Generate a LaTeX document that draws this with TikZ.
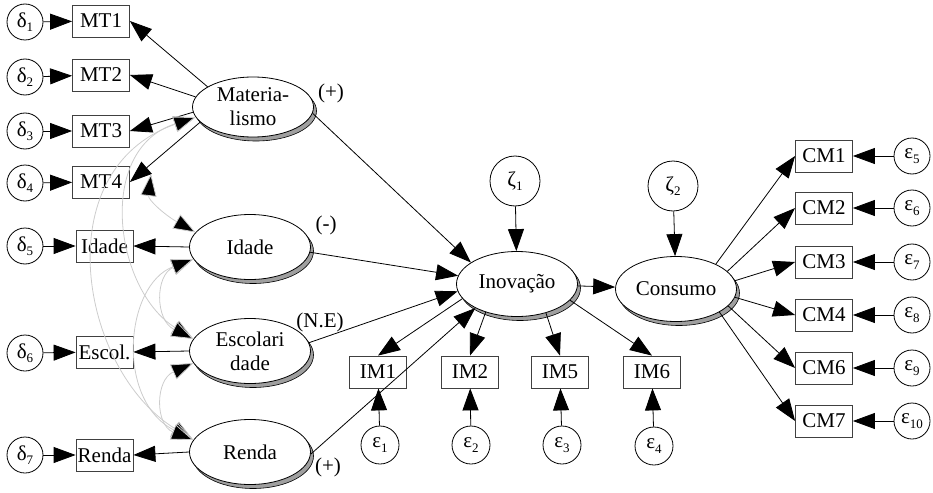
\documentclass[tikz,border=0pt]{standalone}
\usepackage{fontspec}
\setmainfont{Liberation Serif}
\usetikzlibrary{arrows.meta,shapes.geometric,shadows}
\newcommand\sbs[1]{\raisebox{-0.45ex}{\fontsize{13}{13}\selectfont #1}}
\begin{document}
\begin{tikzpicture}[x=1pt,y=-1pt,
  every node/.style={font=\fontsize{21}{24}\selectfont},
  obs/.style={draw=black!75, line width=0.8pt, minimum width=57pt, minimum height=32pt, inner sep=0pt},
  lat/.style={ellipse, draw, line width=0.8pt, fill=white, minimum width=121pt, minimum height=65pt, inner sep=0pt, align=center,
     copy shadow={shadow xshift=3pt, shadow yshift=-4pt, fill=gray!75, draw=black, line width=0.6pt}},
  err/.style={circle, draw, line width=0.8pt, minimum size=36pt, inner sep=0pt, font=\fontsize{21}{21}\selectfont},
  dist/.style={circle, draw, line width=0.8pt, minimum size=50pt, inner sep=0pt, font=\fontsize{21}{21}\selectfont},
  arr/.style={line width=0.8pt, -{Triangle[length=22pt,width=16pt]}},
  cov/.style={draw=gray!40, line width=0.8pt, {Triangle[length=22pt,width=16pt,fill=black]}-{Triangle[length=22pt,width=16pt,fill=black]}},
  lbl/.style={inner sep=0pt}
]
\useasboundingbox (0,0) rectangle (933,492);

% latent variables
\node[lat, minimum height=60pt] (mat) at (253,107) {Materia-\\lismo};
\node[lat] (idE) at (250,247) {Idade};
\node[lat] (esE) at (250,351) {Escolari\\dade};
\node[lat] (reE) at (250,452) {Renda};
\node[lat] (ino) at (517,284) {Inovação};
\node[lat] (con) at (676,289) {Consumo};

% observed
\node[obs] (mt1) at (101,21) {MT1};
\node[obs] (mt2) at (101,75) {MT2};
\node[obs] (mt3) at (101,131) {MT3};
\node[obs] (mt4) at (101,182) {MT4};
\node[obs] (idB) at (104.5,246) {Idade};
\node[obs] (esB) at (104.5,352) {Escol.};
\node[obs] (reB) at (104.5,455) {Renda};
\node[obs] (im1) at (378,372) {IM1};
\node[obs] (im2) at (470,372) {IM2};
\node[obs] (im5) at (560,372) {IM5};
\node[obs] (im6) at (652,372) {IM6};
\node[obs] (cm1) at (824,156) {CM1};
\node[obs] (cm2) at (824,208) {CM2};
\node[obs] (cm3) at (824,262) {CM3};
\node[obs] (cm4) at (824,315) {CM4};
\node[obs] (cm6) at (824,368) {CM6};
\node[obs] (cm7) at (824,421) {CM7};

% errors
\node[err] (d1) at (25,22) {δ\sbs{1}};
\node[err] (d2) at (25,77) {δ\sbs{2}};
\node[err] (d3) at (25,131) {δ\sbs{3}};
\node[err] (d4) at (25,183) {δ\sbs{4}};
\node[err] (d5) at (25,246) {δ\sbs{5}};
\node[err] (d6) at (25,353) {δ\sbs{6}};
\node[err] (d7) at (25,455) {δ\sbs{7}};
\node[err, minimum size=38pt] (e1) at (380,445) {ε\sbs{1}};
\node[err, minimum size=38pt] (e2) at (471,445) {ε\sbs{2}};
\node[err, minimum size=38pt] (e3) at (562,445) {ε\sbs{3}};
\node[err, minimum size=38pt] (e4) at (654,446) {ε\sbs{4}};
\node[err] (e5) at (912,156) {ε\sbs{5}};
\node[err] (e6) at (912,208) {ε\sbs{6}};
\node[err] (e7) at (912,262) {ε\sbs{7}};
\node[err] (e8) at (912,315) {ε\sbs{8}};
\node[err] (e9) at (912,368) {ε\sbs{9}};
\node[err] (e10) at (912,421) {ε\sbs{10}};
\node[dist] (z1) at (515,181) {ζ\sbs{1}};
\node[dist] (z2) at (673,186) {ζ\sbs{2}};

% labels
\node[lbl] (l1) at (331,93) {(+)};
\node[lbl] (l2) at (326,225) {(-)};
\node[lbl] (l3) at (320,322) {(N.E)};
\node[lbl] (l4) at (328,467) {(+)};

% error arrows
\foreach \a/\b in {d1/mt1,d2/mt2,d3/mt3,d4/mt4,d5/idB,d6/esB,d7/reB,
                   e1/im1,e2/im2,e3/im5,e4/im6,e5/cm1,e6/cm2,e7/cm3,e8/cm4,e9/cm6,e10/cm7,
                   z1/ino,z2/con}
  \draw[arr] (\a) -- (\b);

% loadings
\draw[arr] (mat.156) -- (mt1.east);
\draw[arr] (mat.170) -- (mt2.east);
\draw[arr] (mat.185) -- (mt3.east);
\draw[arr] (mat.196) -- (mt4.east);
\draw[arr] (idE.west) -- (idB.east);
\draw[arr] (esE.west) -- (esB.east);
\draw[arr] (reE.west) -- (reB.east);

% structural
\draw[arr] (mat.-6) -- (ino.155);
\draw[arr] (idE.-5) -- (ino.172);
\draw[arr] (esE.8) -- (ino.187);
\draw[arr] (reE.-2) -- (ino.210);
\draw[arr] (ino) -- (con);

\draw[arr] (ino.195) -- (im1.north);
\draw[arr] (ino.222) -- (im2.north);
\draw[arr] (ino.-45) -- (im5.north);
\draw[arr] (ino.-17) -- (im6.north);

\draw[arr] (con.32) -- (cm1.west);
\draw[arr] (con.19) -- (cm2.west);
\draw[arr] (con.8) -- (cm3.west);
\draw[arr] (con.-8) -- (cm4.west);
\draw[arr] (con.-18) -- (cm6.west);
\draw[arr] (con.-28) -- (cm7.west);

% covariances
\coordinate (cMI) at (151,174);
\draw[cov] (mat.190) .. controls (95,150) and (115,290) .. (esE.168);
\draw[cov] (mat.190) .. controls (45,170) and (80,370) .. (reE.168);
\draw[cov] (cMI) .. controls (148,200) and (165,215) .. (idE.165);
\draw[cov] (idE.192) .. controls (155,275) and (155,320) .. (esE.168);
\draw[cov] (idE.192) .. controls (125,285) and (115,400) .. (reE.168);
\draw[cov] (esE.192) .. controls (155,380) and (155,425) .. (reE.168);
\end{tikzpicture}
\end{document}
